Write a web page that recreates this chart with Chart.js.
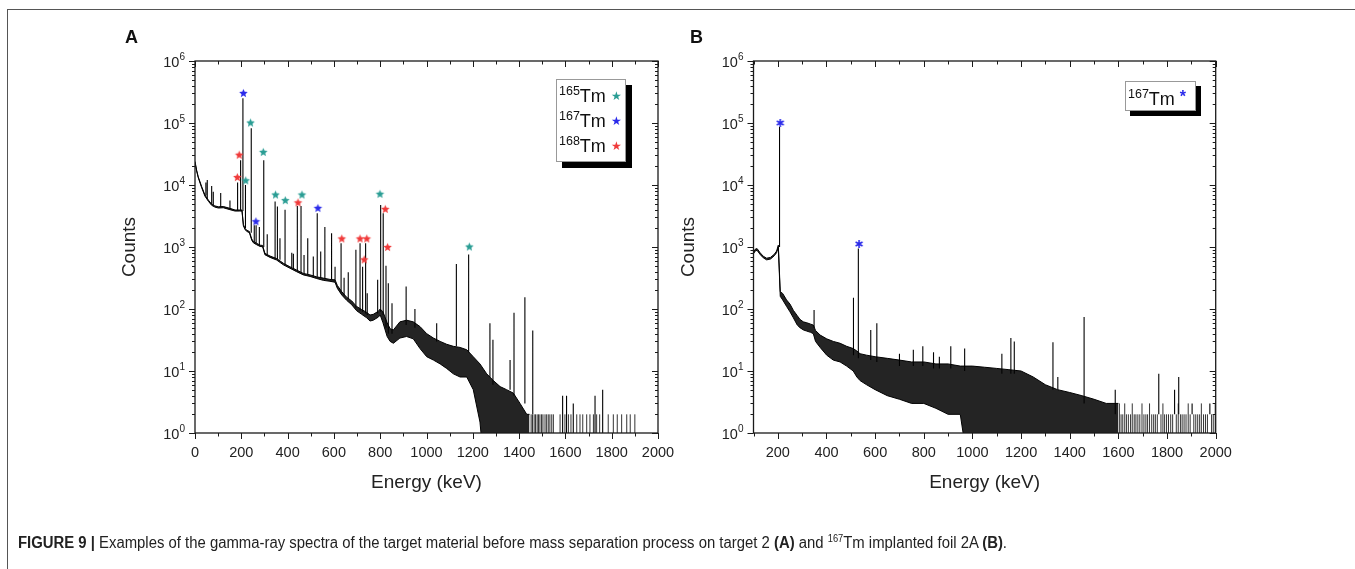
<!DOCTYPE html>
<html>
<head>
<meta charset="utf-8">
<script src="https://cdn.jsdelivr.net/npm/chart.js@4.4.1/dist/chart.umd.min.js"></script>
<style>
  body { margin: 0; background: #fff; }
  #page { position: relative; width: 1355px; height: 569px; overflow: hidden; font-family: "Liberation Sans", Arial, sans-serif; color: #222; }
  #page canvas { position: absolute; left: 0; top: 0; }
  .frame { position: absolute; left: 7px; top: 9px; width: 1360px; height: 570px; border-top: 1.5px solid #555; border-left: 1.5px solid #555; }
  .letter { position: absolute; font-weight: bold; font-size: 18px; line-height: 20px; color: #111; }
  .legend { position: absolute; background: #fff; border: 1px solid #999; box-shadow: 6px 6px 0 #000; }
  .legend .row { position: absolute; left: 2px; font-size: 18px; line-height: 20px; white-space: nowrap; color: #111; }
  .legend sup { font-size: 12.5px; vertical-align: 7px; line-height: 0; }
  .caption { position: absolute; left: 18px; top: 534px; font-size: 16px; color: #222; white-space: nowrap; transform: scaleX(0.93); transform-origin: 0 0; }
  .caption sup { font-size: 10px; vertical-align: 6px; line-height: 0; }
</style>
</head>
<body>
<div id="page">
  <div class="frame"></div>
  <canvas id="chartA" width="1355" height="569"></canvas>
  <canvas id="chartB" width="1355" height="569"></canvas>
  <div class="letter" style="left:125px;top:27px">A</div>
  <div class="letter" style="left:690px;top:27px">B</div>
  <div class="legend" style="left:556px;top:79px;width:68px;height:81px">
    <div class="row" style="top:6px"><sup>165</sup>Tm <span style="color:#2a9d94;font-size:12px;vertical-align:2px">&#9733;</span></div>
    <div class="row" style="top:31px"><sup>167</sup>Tm <span style="color:#2b2bea;font-size:12px;vertical-align:2px">&#9733;</span></div>
    <div class="row" style="top:56px"><sup>168</sup>Tm <span style="color:#f03a3a;font-size:12px;vertical-align:2px">&#9733;</span></div>
  </div>
  <div class="legend" style="left:1125px;top:81px;width:69px;height:28px;box-shadow:5px 5px 0 #000">
    <div class="row" style="top:5px"><sup>167</sup>Tm <span style="color:#2b2bea;font-weight:bold;font-size:16px;vertical-align:3px">*</span></div>
  </div>
  <div class="caption"><b>FIGURE 9 |</b> Examples of the gamma-ray spectra of the target material before mass separation process on target 2 <b>(A)</b> and <sup>167</sup>Tm implanted foil 2A <b>(B)</b>.</div>
</div>
<script>
'use strict';

// ---- panel A : target 2 ----
var aBandE  = [0,7,14,29,43,58,72,86,101,122,151,173,191,203,209,216,223,235,245,252,266,281,292,302,324,353,382,410,439,468,497,526,554,583,605,615,634,655,677,698,720,742,756,770,792,800,812,830,843,857,885,914,943,972,1001,1030,1059,1087,1116,1145,1174,1202,1231,1260,1289,1318,1346,1375,1404,1433,1445];
var aBandHi = [24000,17400,13600,9400,6900,5700,4900,4600,4450,4500,4200,3950,3950,3950,2300,2000,1870,1780,1350,1230,1150,1070,1060,790,715,650,545,480,425,375,355,330,315,300,295,240,190,155,135,110,98,88,80,82,92,100,90,60,48,46,62,66,62,52,40,34,30,27,25,24,22,17,13,9,7,5.6,5,4.4,3,2,2];
var aBandLo = [23000,16800,13100,9000,6600,5450,4700,4400,4250,4300,4000,3800,3800,3800,2200,1920,1790,1700,1290,1170,1090,1020,1010,750,680,615,515,455,400,355,335,310,290,280,270,215,168,138,117,94,82,72,64,66,74,80,60,36,30,28,34,36,33,23,17,15,13,11,9,8,8,5,1.5,0.1,0.1,0.1,0.1,0.1,0.1,0.1,0.1];
var aPeakE    = [47,53,72,79,111,151,184,197,207,218,243,256,264,278,297,312,346,356,367,389,418,425,442,458,471,487,511,528,543,561,590,605,631,644,662,695,713,724,737,744,789,802,813,825,835,851,912,950,1044,1129,1182,1274,1287,1361,1378,1425,1459,1588,1605,1634,1728,1761];
var aPeakTop  = [11000,12000,9600,7800,7400,5600,11000,25000,250000,10000,82000,2250,2250,2100,25000,1600,5400,4500,1380,4000,810,780,4600,4600,740,1380,700,3500,850,2100,1660,480,1150,320,390,900,1150,480,1150,180,295,4750,3500,500,260,124,230,100,59,530,760,59,32,15,87,155,45,4,4,3,4,5];
var aPeakBase = [6800,6000,4900,4700,4400,4100,3900,3900,3800,2000,1700,1200,1150,1070,1000,760,660,640,620,530,470,450,420,390,370,360,340,330,320,310,295,290,185,165,145,105,95,90,85,80,85,90,80,50,40,40,55,50,30,25,20,8,6,5,4,3,2,0.1,0.1,0.1,0.1,0.1];
var aTailE   = [1452,1458,1465,1471,1478,1484,1490,1497,1503,1512,1519,1526,1533,1541,1548,1577,1598,1613,1624,1649,1663,1675,1692,1706,1721,1735,1748,1785,1807,1824,1843,1865,1880,1900];
var aTailTop = [2,2,2,2,2,2,2,2,2,2,2,2,2,2,2,2,2,2,2,2,2,2,2,2,2,2,2,2,2,2,2,2,2,2];
var aTm165E = [219,240,295,348,390,462,799,1185];
var aTm165V = [11700,100000,33600,6900,5600,6900,7100,1000];
var aTm167E = [209,263,531];
var aTm167V = [300000,2560,4200];
var aTm168E = [183,191,445,634,713,731,742,822,832];
var aTm168V = [13200,30300,5150,1350,1350,620,1350,4050,985];

// ---- panel B : 167Tm implanted foil 2A ----
var bBandE  = [100,108,115,127,140,154,170,185,195,202,210,220,236,250,264,280,291,305,319,335,346,355,374,401,428,456,483,510,525,538,565,600,650,700,750,800,850,900,950,1000,1050,1100,1150,1200,1250,1300,1350,1400,1450,1500,1550,1600];
var bBandHi = [830,930,940,810,710,660,680,760,860,1070,190,178,140,120,95,78,68,62,60,57,55,45,38,33,30,28,25,23,21,19,18,17,16,15,14,14,13,13,12,12,11.5,11,10.5,10,8,6,5,4.5,4,3.5,3,3];
var bBandLo = [780,870,880,760,670,620,640,720,810,1000,160,140,110,90,72,55,50,46,44,42,40,30,24,18,15,14,12,10,8,7,6,5,4,3.5,3,3,2.5,2,2,0.1,0.1,0.1,0.1,0.1,0.1,0.1,0.1,0.1,0.1,0.1,0.1,0.1];
var bPeakE    = [207,349,511,531,582,607,700,757,796,840,864,911,968,1121,1158,1172,1331,1351,1459,1587,1766,1831,1848,1903,1976];
var bPeakTop  = [87000,96,152,950,46,59,19,22,25,20,17,25,23,19,34,30,29,8,74,5,9,5,8,3,3];
var bPeakBase = [1000,50,18,16,15,14,12,12,12,11,11,11,10,9,9,9,5,5,3,2,2,2,2,2,2];
var bTailE   = [1604,1611,1618,1626,1633,1641,1650,1657,1665,1672,1680,1688,1697,1705,1713,1720,1728,1737,1745,1752,1760,1775,1783,1790,1798,1806,1815,1823,1838,1846,1855,1862,1870,1878,1887,1895,1910,1918,1926,1934,1941,1950,1958,1966,1983,1990,1998];
var bTailTop = [3,2,2,3,2,2,2,3,2,2,2,2,3,2,2,2,3,2,2,2,2,2,3,2,2,2,2,2,2,3,2,2,2,2,3,2,2,2,2,2,3,2,2,2,2,2,3];
var bTm167E = [210,534];
var bTm167V = [100000,1120];

// ---- axes ----
var xMajorA = [0,200,400,600,800,1000,1200,1400,1600,1800,2000];
var xMinorA = [100,300,500,700,900,1100,1300,1500,1700,1900];
var xMajorB = [200,400,600,800,1000,1200,1400,1600,1800,2000];
var xMinorB = [100,300,500,700,900,1100,1300,1500,1700,1900];
var yMajor = [1,10,100,1000,10000,100000,1000000];
var yMinorSteps = [2,3,4,5,6,7,8,9];

var TEAL = '#2a9d94', BLUE = '#2b2bea', RED = '#f03a3a';

function pts(E, V){ return E.map(function(e, i){ return {x: e, y: V[i]}; }); }
function spikes(E, top, base){
  var out = [];
  E.forEach(function(e, i){
    out.push({x: e, y: (base ? base[i] : 0.1)}, {x: e, y: top[i]}, {x: e, y: null});
  });
  return out;
}

function starImg(color, r){
  var c = document.createElement('canvas');
  var s = Math.ceil(r * 2 + 2);
  c.width = c.height = s;
  var g = c.getContext('2d');
  g.fillStyle = color;
  g.beginPath();
  for (var i = 0; i < 10; i++) {
    var a = -Math.PI / 2 + i * Math.PI / 5;
    var rr = (i % 2) ? r * 0.45 : r;
    g.lineTo(s / 2 + rr * Math.cos(a), s / 2 + rr * Math.sin(a));
  }
  g.closePath();
  g.fill();
  return c;
}
function asteriskImg(color){
  var c = document.createElement('canvas');
  c.width = 10; c.height = 10;
  var g = c.getContext('2d');
  g.strokeStyle = color; g.lineWidth = 1.6;
  g.beginPath();
  for (var i = 0; i < 3; i++) {
    var a = -Math.PI / 2 + i * Math.PI / 3;
    g.moveTo(5 - 4 * Math.cos(a), 5 - 4 * Math.sin(a));
    g.lineTo(5 + 4 * Math.cos(a), 5 + 4 * Math.sin(a));
  }
  g.stroke();
  return c;
}

// frame, Origin-like ticks and 10^n labels
var framePlugin = {
  id: 'frame',
  afterDatasetsDraw: function(chart, args, o){
    var ctx = chart.ctx, a = chart.chartArea, x = chart.scales.x, y = chart.scales.y;
    ctx.save();
    ctx.strokeStyle = '#1a1a1a';
    ctx.lineWidth = 1.3;
    ctx.strokeRect(a.left, a.top, a.right - a.left, a.bottom - a.top);
    ctx.lineWidth = 1;
    ctx.beginPath();
    function vt(v, len){
      var px = Math.round(x.getPixelForValue(v)) + 0.5;
      ctx.moveTo(px, a.bottom); ctx.lineTo(px, a.bottom + len);
      ctx.moveTo(px, a.top); ctx.lineTo(px, a.top + len);
    }
    function ht(v, len){
      var py = Math.round(y.getPixelForValue(v)) + 0.5;
      ctx.moveTo(a.left, py); ctx.lineTo(a.left - len, py);
      ctx.moveTo(a.right, py); ctx.lineTo(a.right - len, py);
    }
    o.xMajor.forEach(function(v){ vt(v, 6); });
    o.xMinor.forEach(function(v){ vt(v, 3.5); });
    yMajor.forEach(function(v){ ht(v, 6); });
    yMajor.slice(0, -1).forEach(function(d){
      yMinorSteps.forEach(function(m){ ht(d * m, 3); });
    });
    ctx.stroke();

    ctx.fillStyle = '#222';
    ctx.textBaseline = 'alphabetic';
    ctx.textAlign = 'left';
    yMajor.forEach(function(v){
      var py = y.getPixelForValue(v);
      var exp = String(Math.round(Math.log10(v)));
      ctx.font = '10px "Liberation Sans"';
      var we = ctx.measureText(exp).width;
      ctx.font = '14.5px "Liberation Sans"';
      var wb = ctx.measureText('10').width;
      var xr = a.left - 10;
      ctx.fillText('10', xr - we - wb, py + 5.5);
      ctx.font = '10px "Liberation Sans"';
      ctx.fillText(exp, xr - we, py - 1.5);
    });
    ctx.restore();
  }
};

function makeChart(id, cfg){
  var tickFont = {family: 'Liberation Sans', size: 14.5};
  var titleFont = {family: 'Liberation Sans', size: 19};
  return new Chart(document.getElementById(id), {
    type: 'line',
    data: {datasets: cfg.datasets},
    plugins: [framePlugin],
    options: {
      responsive: false,
      animation: false,
      events: [],
      layout: {padding: {left: 0, top: 61, right: cfg.padRight, bottom: 0}},
      elements: {point: {radius: 0}, line: {tension: 0}},
      plugins: {
        legend: {display: false},
        tooltip: {enabled: false},
        frame: {xMajor: cfg.xMajor, xMinor: cfg.xMinor}
      },
      scales: {
        x: {
          type: 'linear', min: cfg.xMin, max: 2000,
          afterFit: function(s){ s.height = 136; },
          afterBuildTicks: function(s){ s.ticks = cfg.xMajor.map(function(v){ return {value: v}; }); },
          grid: {display: false, drawTicks: false},
          border: {display: false},
          ticks: {font: tickFont, color: '#222', padding: 11, maxRotation: 0, autoSkip: false,
                  callback: function(v){ return String(v); }},
          title: {display: true, text: 'Energy (keV)', font: titleFont, color: '#222', padding: {top: 0, bottom: 74.6}}
        },
        y: {
          type: 'logarithmic', min: 1, max: 1000000,
          afterFit: function(s){ s.width = cfg.yWidth; },
          afterBuildTicks: function(s){ s.ticks = yMajor.map(function(v){ return {value: v}; }); },
          grid: {display: false, drawTicks: false},
          border: {display: false},
          ticks: {display: false},
          title: {display: true, text: 'Counts', font: titleFont, color: '#222', padding: {top: cfg.yTitlePad, bottom: 0}}
        }
      }
    }
  });
}

function spectrumSets(p){
  var sets = [];
  p.stars.forEach(function(s){
    sets.push({type: 'scatter', data: pts(s.E, s.V), pointStyle: s.img, pointRadius: 5, showLine: false});
  });
  sets.push({data: spikes(p.peakE, p.peakTop, p.peakBase), borderColor: '#000', borderWidth: 1.1, spanGaps: false, fill: false});
  sets.push({data: spikes(p.tailE, p.tailTop, null), borderColor: 'rgba(0,0,0,0.8)', borderWidth: 1, spanGaps: false, fill: false});
  sets.push({data: pts(p.bandE, p.bandHi), borderColor: '#000', borderWidth: 1, fill: '+1', backgroundColor: 'rgba(0,0,0,0.86)'});
  sets.push({data: pts(p.bandE, p.bandLo), borderColor: '#000', borderWidth: 1, fill: false});
  return sets;
}

makeChart('chartA', {
  xMin: 0, xMajor: xMajorA, xMinor: xMinorA, yWidth: 195, yTitlePad: 118.6, padRight: 697,
  datasets: spectrumSets({
    stars: [
      {E: aTm165E, V: aTm165V, img: starImg(TEAL, 4.5)},
      {E: aTm167E, V: aTm167V, img: starImg(BLUE, 4.5)},
      {E: aTm168E, V: aTm168V, img: starImg(RED, 4.5)}
    ],
    peakE: aPeakE, peakTop: aPeakTop, peakBase: aPeakBase,
    tailE: aTailE, tailTop: aTailTop,
    bandE: aBandE, bandHi: aBandHi, bandLo: aBandLo
  })
});

makeChart('chartB', {
  xMin: 100, xMajor: xMajorB, xMinor: xMinorB, yWidth: 753.5, yTitlePad: 677.2, padRight: 139.3,
  datasets: spectrumSets({
    stars: [
      {E: bTm167E, V: bTm167V, img: asteriskImg(BLUE)}
    ],
    peakE: bPeakE, peakTop: bPeakTop, peakBase: bPeakBase,
    tailE: bTailE, tailTop: bTailTop,
    bandE: bBandE, bandHi: bBandHi, bandLo: bBandLo
  })
});
</script>
</body>
</html>
